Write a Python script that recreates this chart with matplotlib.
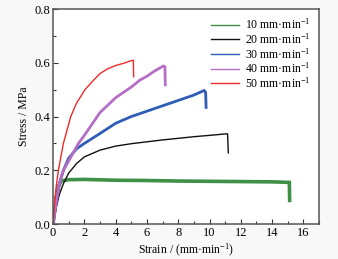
import matplotlib
matplotlib.use("Agg")
import matplotlib.pyplot as plt
from matplotlib.ticker import MultipleLocator

plt.rcParams['font.family'] = ['Liberation Serif', 'DejaVu Serif']
plt.rcParams['mathtext.fontset'] = 'custom'
plt.rcParams['mathtext.rm'] = 'Liberation Serif'
plt.rcParams['mathtext.it'] = 'Liberation Serif:italic'

labels = ['10 mm·min$^{-1}$', '20 mm·min$^{-1}$', '30 mm·min$^{-1}$',
          '40 mm·min$^{-1}$', '50 mm·min$^{-1}$']

x10 = [0, 0.1, 0.2, 0.35, 0.5, 1, 2, 4, 6, 8, 10, 12, 14, 15.1, 15.12]
y10 = [0, 0.05, 0.10, 0.14, 0.16, 0.165, 0.166, 0.163, 0.162, 0.160, 0.159, 0.158, 0.157, 0.155, 0.088]

x20 = [0, 0.2, 0.4, 0.66, 1.0, 1.5, 2.0, 3.0, 4.0, 5.0, 6.0, 7.0, 8.0, 9.0, 10.0, 11.15, 11.2]
y20 = [0, 0.06, 0.11, 0.15, 0.19, 0.225, 0.25, 0.275, 0.29, 0.299, 0.306, 0.313, 0.319, 0.325, 0.330, 0.336, 0.265]

x30 = [0, 0.2, 0.4, 0.66, 1.0, 1.5, 2.0, 3.0, 4.0, 5.0, 6.0, 7.0, 8.0, 9.0, 9.65, 9.75, 9.78]
y30 = [0, 0.08, 0.15, 0.20, 0.245, 0.28, 0.30, 0.337, 0.375, 0.40, 0.42, 0.44, 0.46, 0.48, 0.497, 0.49, 0.434]

x40 = [0, 0.2, 0.4, 0.66, 1.0, 1.62, 2.0, 3.0, 4.0, 5.0, 5.56, 6.0, 6.5, 7.05, 7.15, 7.17]
y40 = [0, 0.08, 0.15, 0.20, 0.235, 0.30, 0.33, 0.415, 0.47, 0.51, 0.536, 0.55, 0.57, 0.588, 0.585, 0.518]

x50 = [0, 0.1, 0.2, 0.34, 0.66, 1.13, 1.5, 2.04, 2.5, 3.0, 3.5, 4.0, 4.5, 5.0, 5.13, 5.15]
y50 = [0, 0.08, 0.14, 0.20, 0.30, 0.40, 0.45, 0.50, 0.53, 0.56, 0.578, 0.59, 0.598, 0.608, 0.61, 0.548]

series = [(x10, y10, '#3f8f45', 2.6), (x20, y20, '#111111', 1.0),
          (x30, y30, '#2f5cb5', 2.0), (x40, y40, '#b56ec6', 2.0),
          (x50, y50, '#ee2a2a', 1.0)]

fig = plt.figure(figsize=(3.38, 2.59), dpi=100, facecolor='#f8f8f8')
ax = fig.add_axes([0.157, 0.135, 0.787, 0.830])
ax.set_facecolor('white')

for (xs, ys, c, lw), lab in zip(series, labels):
    ax.plot(xs, ys, color=c, lw=lw, label=lab, solid_joinstyle='miter')

ax.set_xlim(0, 17)
ax.set_ylim(0, 0.8)
ax.xaxis.set_major_locator(MultipleLocator(2))
ax.xaxis.set_minor_locator(MultipleLocator(1))
ax.yaxis.set_major_locator(MultipleLocator(0.2))
ax.yaxis.set_minor_locator(MultipleLocator(0.1))
ax.yaxis.set_major_formatter(matplotlib.ticker.FormatStrFormatter('%.1f'))
ax.tick_params(which='both', direction='in', top=False, right=False,
               labelsize=9, color='#333333', width=0.8, pad=2)
ax.tick_params(which='major', length=3.5)
ax.tick_params(which='minor', length=2)
for s in ax.spines.values():
    s.set_color('#555555')
    s.set_linewidth(1.1)

ax.set_xlabel('Strain / (mm·min$^{-1}$)', fontsize=8.5, labelpad=2)
ax.set_ylabel('Stress / MPa', fontsize=8.5, labelpad=3)

leg = ax.legend(loc='upper right', frameon=False, fontsize=8.5, handlelength=2.4,
                handletextpad=0.5, labelspacing=0.0, borderaxespad=0.3)
for h in leg.get_lines():
    h.set_linewidth(1.0)

fig.savefig('out.png', dpi=100, facecolor=fig.get_facecolor())
